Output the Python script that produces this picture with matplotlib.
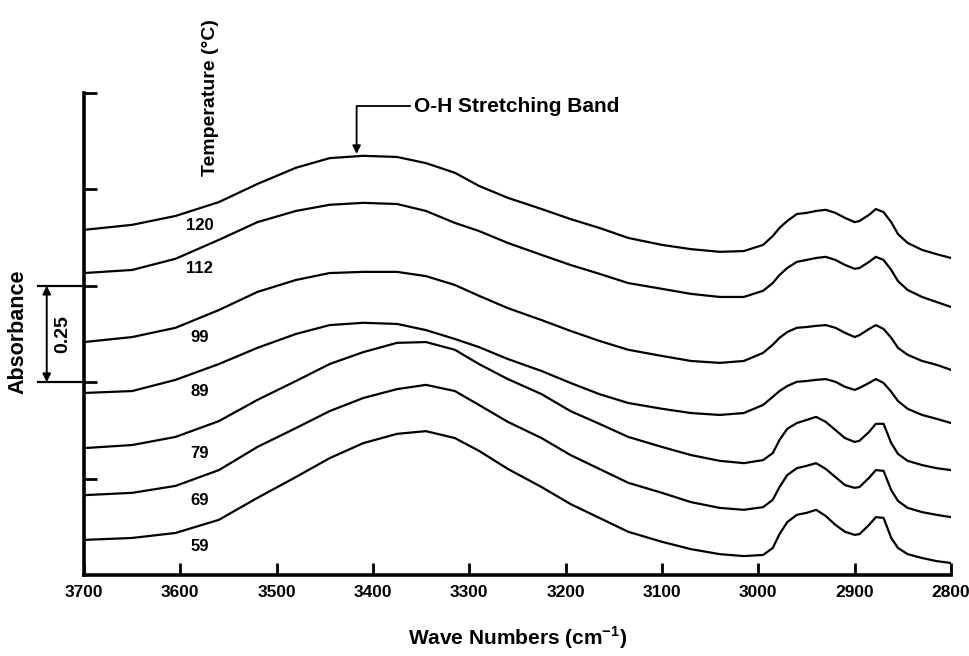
import numpy as np
import matplotlib
matplotlib.use("Agg")
import matplotlib.pyplot as plt
from matplotlib import transforms

plt.rcParams['font.family'] = ['Liberation Sans', 'DejaVu Sans']
plt.rcParams['font.weight'] = 'bold'
plt.rcParams['mathtext.fontset'] = 'custom'
plt.rcParams['mathtext.rm'] = 'Liberation Sans'
plt.rcParams['mathtext.bf'] = 'Liberation Sans:bold'

# wavenumber grid (cm-1) shared by all spectra
wavenumber = [3700, 3650, 3605, 3560, 3520, 3480, 3445, 3410, 3375, 3345,
              3315, 3290, 3260, 3225, 3195, 3165, 3135, 3100, 3070, 3040,
              3015, 2995, 2985, 2978, 2970, 2960, 2950, 2940, 2930, 2920,
              2910, 2900, 2895, 2885, 2878, 2870, 2862, 2855, 2845, 2830,
              2815, 2800]

# stacked absorbance traces, one per temperature (deg C)
temps = [120, 112, 99, 89, 79, 69, 59]
abs_120 = [0.895, 0.908, 0.931, 0.967, 1.014, 1.056, 1.081, 1.087, 1.084, 1.068,
           1.043, 1.009, 0.978, 0.949, 0.923, 0.900, 0.874, 0.856, 0.845, 0.838,
           0.840, 0.856, 0.879, 0.900, 0.918, 0.936, 0.939, 0.944, 0.947, 0.939,
           0.926, 0.915, 0.918, 0.934, 0.949, 0.941, 0.915, 0.884, 0.861, 0.843,
           0.832, 0.822]
abs_112 = [0.783, 0.791, 0.820, 0.869, 0.915, 0.944, 0.960, 0.965, 0.962, 0.944,
           0.913, 0.892, 0.861, 0.830, 0.804, 0.781, 0.757, 0.742, 0.729, 0.721,
           0.721, 0.737, 0.757, 0.778, 0.796, 0.812, 0.817, 0.822, 0.825, 0.817,
           0.804, 0.794, 0.796, 0.812, 0.825, 0.817, 0.791, 0.762, 0.739, 0.721,
           0.708, 0.695]
abs_99 = [0.604, 0.617, 0.641, 0.687, 0.734, 0.765, 0.783, 0.786, 0.786, 0.775,
          0.752, 0.724, 0.692, 0.661, 0.633, 0.607, 0.584, 0.568, 0.555, 0.550,
          0.555, 0.576, 0.597, 0.615, 0.630, 0.641, 0.643, 0.646, 0.648, 0.641,
          0.628, 0.617, 0.622, 0.638, 0.648, 0.638, 0.615, 0.589, 0.571, 0.555,
          0.545, 0.532]
abs_89 = [0.472, 0.477, 0.506, 0.547, 0.589, 0.625, 0.648, 0.654, 0.651, 0.635,
          0.612, 0.591, 0.560, 0.529, 0.498, 0.469, 0.446, 0.431, 0.420, 0.415,
          0.420, 0.441, 0.462, 0.477, 0.490, 0.501, 0.503, 0.506, 0.508, 0.501,
          0.488, 0.480, 0.485, 0.498, 0.508, 0.498, 0.475, 0.451, 0.431, 0.415,
          0.405, 0.394]
abs_79 = [0.329, 0.337, 0.358, 0.399, 0.454, 0.503, 0.547, 0.578, 0.602, 0.604,
          0.584, 0.547, 0.508, 0.469, 0.425, 0.392, 0.358, 0.332, 0.311, 0.296,
          0.290, 0.298, 0.316, 0.350, 0.379, 0.394, 0.402, 0.410, 0.397, 0.376,
          0.355, 0.345, 0.348, 0.371, 0.392, 0.392, 0.342, 0.314, 0.296, 0.285,
          0.277, 0.272]
abs_69 = [0.207, 0.213, 0.231, 0.272, 0.332, 0.381, 0.425, 0.459, 0.482, 0.493,
          0.477, 0.441, 0.397, 0.355, 0.311, 0.275, 0.239, 0.213, 0.189, 0.174,
          0.169, 0.176, 0.195, 0.228, 0.259, 0.277, 0.283, 0.290, 0.275, 0.254,
          0.233, 0.226, 0.228, 0.252, 0.272, 0.270, 0.220, 0.192, 0.174, 0.163,
          0.156, 0.150]
abs_59 = [0.091, 0.096, 0.109, 0.143, 0.200, 0.254, 0.303, 0.342, 0.366, 0.373,
          0.355, 0.322, 0.275, 0.228, 0.184, 0.148, 0.112, 0.086, 0.067, 0.054,
          0.049, 0.052, 0.070, 0.106, 0.137, 0.156, 0.161, 0.169, 0.153, 0.130,
          0.112, 0.104, 0.106, 0.130, 0.150, 0.148, 0.096, 0.070, 0.054, 0.044,
          0.036, 0.031]
spectra = [abs_120, abs_112, abs_99, abs_89, abs_79, abs_69, abs_59]

# where each temperature tag sits (below its trace)
label_wn = 3580
label_y = [0.905, 0.796, 0.617, 0.475, 0.316, 0.192, 0.075]

xticks = list(range(3700, 2799, -100))

fig = plt.figure(figsize=(9.69, 6.56), dpi=100)
ax = fig.add_axes([0.0867, 0.1235, 0.8947, 0.7348])

for spec in spectra:
    ax.plot(wavenumber, spec, color='black', lw=1.6,
            solid_joinstyle='round', solid_capstyle='round')

for t, ly in zip(temps, label_y):
    ax.text(label_wn, ly, str(t), ha='center', va='center', fontsize=12,
            fontweight='bold')

ax.set_xlim(3700, 2800)
ax.set_ylim(0, 1.25)
ax.set_xticks(xticks)
ax.set_xticklabels([str(v) for v in xticks], fontsize=12.5, fontweight='bold')
ax.set_yticks([0.25, 0.5, 0.75, 1.0, 1.25])
ax.set_yticklabels([])
ax.tick_params(axis='both', direction='in', length=9, width=2, color='black')
ax.tick_params(axis='x', pad=7)

for side in ['top', 'right']:
    ax.spines[side].set_visible(False)
for side in ['left', 'bottom']:
    ax.spines[side].set_linewidth(2.6)

ax.set_xlabel(r"Wave Numbers (cm$^{\mathbf{-1}}$)", fontsize=15,
              fontweight='bold', labelpad=18)

# 0.25 absorbance scale bar left of the axis
trans = transforms.blended_transform_factory(ax.transAxes, ax.transData)
for yy in [0.5, 0.75]:
    ax.plot([-0.053, -0.004], [yy, yy], transform=trans, color='black',
            lw=1.6, clip_on=False)
ax.annotate('', xy=(-0.043, 0.5), xytext=(-0.043, 0.75),
            xycoords=trans, textcoords=trans,
            arrowprops=dict(arrowstyle='<|-|>', color='black', lw=1.4,
                            mutation_scale=12, shrinkA=0, shrinkB=0))
ax.text(-0.024, 0.625, '0.25', transform=trans, rotation=90, ha='center',
        va='center', fontsize=14, fontweight='bold')
fig.text(0.019, 0.494, 'Absorbance', rotation=90, ha='center', va='center',
         fontsize=15.5, fontweight='bold')

fig.text(0.217, 0.852, 'Temperature (°C)', rotation=90, ha='center',
         va='center', fontsize=14, fontweight='bold')

# O-H band callout
ax.annotate('', xy=(3417, 1.092), xytext=(3417, 1.215),
            arrowprops=dict(arrowstyle='-|>', color='black', lw=1.3,
                            mutation_scale=12, shrinkA=0, shrinkB=0))
ax.plot([3417, 3362], [1.215, 1.215], color='black', lw=1.3, clip_on=False)
ax.text(3357, 1.215, 'O-H Stretching Band', ha='left', va='center',
        fontsize=15, fontweight='bold')

fig.savefig('out.png', dpi=100)
